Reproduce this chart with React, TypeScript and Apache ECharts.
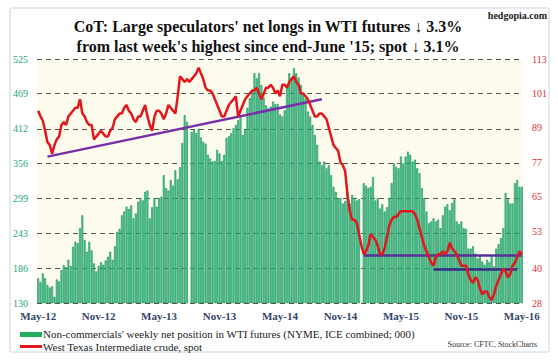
import React, { useEffect, useRef } from "react";
import * as echarts from "echarts";

const leftTicks = [130, 186, 243, 299, 356, 412, 469, 525];
const rightTicks = [28, 40, 53, 65, 77, 89, 101, 113];
const xTickLabels = ["May-12", "Nov-12", "May-13", "Nov-13", "May-14", "Nov-14", "May-15", "Nov-15", "May-16"];

// Non-commercials' weekly net position (000), weekly from May-12
const netLongs: (number | null)[] = [
  170, 164, 178, 170, 159, 155, 157, 140, 168, 165,
  183, 191, 188, 200, 190, 221, 229, 227, 251, 272,
  232, 213, 229, 215, 194, 181, 190, 196, 192, 199,
  205, 213, 200, 222, 245, 250, 272, 278, 286, 282,
  288, 267, 275, 294, 300, 296, 310, 312, 267, 285,
  300, 286, 300, 302, 337, 316, 312, 329, 320, 345,
  330, 350, 389, 434, 423, null, 407, 410, 405, 412,
  398, 391, 388, 370, 364, 359, 360, 378, 372, 360,
  370, 397, 400, 405, 413, 418, 426, 432, 402, 410,
  446, 462, 472, 502, 494, 502, 483, 462, 450, 445,
  448, 456, 452, 452, 435, 432, 442, 478, 502, 495,
  510, 502, 495, 483, 470, 461, 440, 432, 418, 402,
  386, 359, 353, 359, 348, 353, 337, 318, 310, 300,
  300, 291, 295, 310, 291, 305, 300, 296, 298, null,
  324, 320, 316, 318, 334, 296, 300, 283, 290, 278,
  285, 300, 324, 356, 350, 348, 367, 356, 367, 375,
  370, 359, 362, 348, 340, 316, 300, 278, 259, 262,
  267, 262, 265, 251, 272, 286, 290, 280, 292, 298,
  262, 258, 262, 251, 250, 218, 218, 222, 210, 202,
  208, 197, 192, 200, 196, 205, 189, 218, 225, 235,
  251, 308, 298, 291, 291, 324, 329, 318, 318,
];

// West Texas Intermediate crude, spot ($)
const wtiSpot: number[] = [
  95, 93, 91.5, 88, 84, 83, 80, 83, 85, 86,
  90, 91, 90, 93, 94, 95, 96, 96, 99, 94,
  93, 91, 90, 90, 85, 86, 87, 88, 87, 86,
  86, 88, 89, 92, 93, 94, 94, 96, 97, 95,
  94, 92, 91, 93, 93, 95, 97, 93, 90, 88,
  93, 95, 95, 94, 92, 94, 97, 96, 95, 94,
  100, 107, 106, 105, 106, 105, 106, 107, 108, 110,
  108, 106, 103, 102, 102, 101, 99, 97, 95, 93,
  93, 95, 97, 98, 99, 100, 93, 95, 97, 99,
  100, 101, 102, 102, 103, 101, 99, 101, 103, 103,
  104, 103, 101, 102, 100, 104, 104, 103, 105, 106,
  107, 105, 104, 101, 101, 100, 99, 97, 95, 93,
  93, 94, 94, 93, 92, 89, 86, 83, 82, 81,
  77, 76, 74, 66, 60, 57, 57, 56, 52, 48,
  45, 46, 48, 52, 51, 50, 48, 45, 45, 47,
  51, 55, 57, 58, 58, 59, 60, 60, 60, 60,
  60, 60, 59, 57, 54, 51, 48, 46, 44, 42,
  41, 44, 45, 45, 46, 45, 46, 49, 47, 46,
  45, 43, 41, 41, 41, 38, 36, 35, 37, 36,
  33, 31, 32, 32, 30, 29, 31, 34, 36, 38,
  40, 39, 37, 38, 41, 42, 44, 46, 45,
];

// Trend lines: [startIndex, startValue, endIndex, endValue] on the spot axis
const risingTrend = [4, 79, 122, 99];
const upperFloor = [140, 44.7, 208, 44.7];
const lowerFloor = [170, 39.8, 206, 39.8];

const categories: string[] = netLongs.map((_, i) => {
  const d = new Date(2012, 4, 1 + 7 * i);
  return d.toISOString().slice(0, 10);
});

const SERIF = "'Liberation Serif', 'Times New Roman', serif";

export default function App() {
  const ref = useRef<HTMLDivElement>(null);
  useEffect(() => {
    if (!ref.current) return;
    const chart = echarts.init(ref.current, null, { renderer: "svg" });
    const trend = (t: number[], color: string) => [
      { coord: [t[0], t[1]], lineStyle: { color, width: 2.5, type: "solid" } },
      { coord: [t[2], t[3]] },
    ];
    chart.setOption({
      animation: false,
      backgroundColor: "#ffffff",
      title: {
        text: "CoT: Large speculators' net longs in WTI futures \u2193 3.3%\nfrom last week's highest since end-June '15; spot \u2193 3.1%",
        left: 263,
        top: 11,
        textAlign: "center",
        textStyle: { fontFamily: SERIF, fontSize: 16, fontWeight: "bold", lineHeight: 20, color: "#111" },
      },
      grid: {
        left: 37,
        right: 35,
        top: 59,
        bottom: 59,
        show: true,
        backgroundColor: "#fdfcec",
        borderWidth: 0,
      },
      xAxis: {
        type: "category",
        data: categories,
        axisLine: { show: false },
        axisTick: { show: false },
        axisLabel: {
          interval: (i: number) => i % 26 === 0,
          formatter: (_v: string, i: number) => xTickLabels[Math.round(i / 26)] ?? "",
          fontFamily: SERIF,
          fontSize: 11,
          fontWeight: "bold",
          color: "#35446e",
          margin: 7,
        },
      },
      yAxis: [
        {
          type: "value",
          min: 130,
          max: 525,
          axisLine: { show: false },
          axisTick: { show: false, customValues: leftTicks },
          axisLabel: { customValues: leftTicks, fontFamily: SERIF, fontSize: 10, color: "#23a874", margin: 9 },
          splitLine: { show: true, lineStyle: { color: "#555", type: [5, 4], width: 1 } },
        },
        {
          type: "value",
          min: 28,
          max: 113,
          axisLine: { show: false },
          axisTick: { show: false, customValues: rightTicks },
          axisLabel: { customValues: rightTicks, fontFamily: SERIF, fontSize: 10, color: "#d8343c", margin: 9 },
          splitLine: { show: false },
        },
      ],
      series: [
        {
          name: "Non-commercials' weekly net position in WTI futures (NYME, ICE combined; 000)",
          type: "bar",
          data: netLongs,
          barCategoryGap: "20%",
          itemStyle: { color: "#45d3a2", borderColor: "#087a3e", borderWidth: 0.5 },
        },
        {
          name: "West Texas Intermediate crude, spot",
          type: "line",
          yAxisIndex: 1,
          data: wtiSpot,
          symbol: "none",
          z: 5,
          lineStyle: { color: "#e3161d", width: 2.5 },
          markLine: {
            silent: true,
            symbol: "none",
            label: { show: false },
            z: 4,
            data: [
              trend(risingTrend, "#7a2fa8"),
              trend(upperFloor, "#5b2f98"),
              trend(lowerFloor, "#3d2c86"),
            ],
          },
        },
      ],
      graphic: [
        {
          type: "rect",
          shape: { x: 10, y: 8, width: 539, height: 344 },
          style: { fill: "none", stroke: "#c9d6e6", lineWidth: 1 },
          silent: true,
        },
        {
          type: "text",
          x: 547,
          y: 10,
          style: { text: "hedgopia.com", fontFamily: SERIF, fontSize: 10, fontWeight: "bold", fill: "#222", textAlign: "right" },
        },
        {
          type: "rect",
          shape: { x: 20, y: 332, width: 22, height: 5 },
          style: { fill: "#1fae5c" },
        },
        {
          type: "text",
          x: 43,
          y: 328,
          style: {
            text: "Non-commercials' weekly net position in WTI futures (NYME, ICE combined; 000)",
            fontFamily: SERIF,
            fontSize: 11,
            fill: "#222",
          },
        },
        {
          type: "rect",
          shape: { x: 20, y: 345, width: 22, height: 3 },
          style: { fill: "#e3161d" },
        },
        {
          type: "text",
          x: 43,
          y: 341,
          style: { text: "West Texas Intermediate crude, spot", fontFamily: SERIF, fontSize: 11, fill: "#222" },
        },
        {
          type: "text",
          x: 537,
          y: 340,
          style: { text: "Source: CFTC, StockCharts", fontFamily: SERIF, fontSize: 8, fill: "#333", textAlign: "right" },
        },
      ],
    });
    return () => chart.dispose();
  }, []);
  return (
    <div
      ref={ref}
      style={{ position: "fixed", left: 0, top: 0, width: 558, height: 362 }}
    />
  );
}
